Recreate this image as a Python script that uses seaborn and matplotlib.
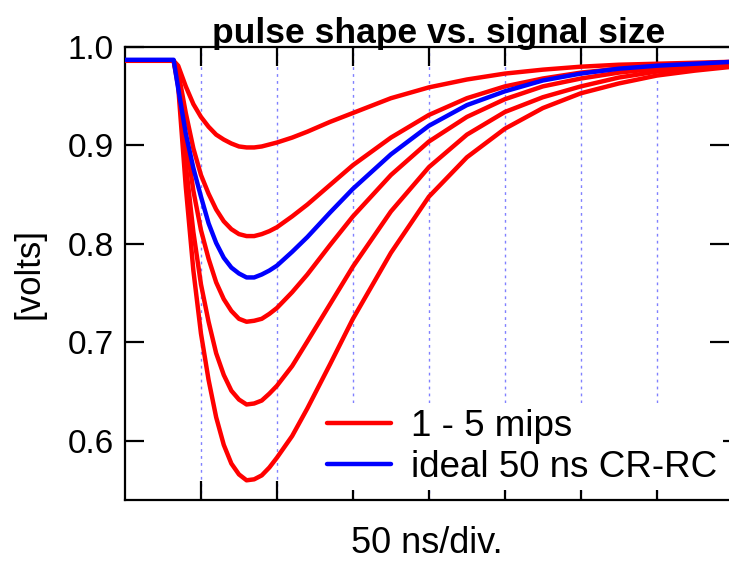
import numpy as np
import pandas as pd
import matplotlib
matplotlib.use("Agg")
import matplotlib.pyplot as plt
import seaborn as sns
from matplotlib.lines import Line2D

# time axis in divisions (50 ns/div)
t = [0.0, 0.64, 0.7, 0.8, 0.9, 1.0, 1.1, 1.2, 1.3, 1.4, 1.5, 1.6, 1.7, 1.8, 1.9,
     2.0, 2.2, 2.4, 2.7, 3.0, 3.5, 4.0, 4.5, 5.0, 5.5, 6.0, 6.5, 7.0, 7.5, 8.0]

mip1 = [0.986, 0.986, 0.981, 0.960, 0.942, 0.929, 0.919, 0.911, 0.906, 0.902, 0.899, 0.898, 0.898, 0.899, 0.901,
        0.903, 0.908, 0.914, 0.924, 0.933, 0.948, 0.959, 0.967, 0.973, 0.977, 0.980, 0.982, 0.983, 0.984, 0.985]
mip2 = [0.986, 0.986, 0.975, 0.933, 0.897, 0.870, 0.851, 0.835, 0.823, 0.815, 0.810, 0.808, 0.808, 0.810, 0.813,
        0.817, 0.828, 0.840, 0.860, 0.880, 0.908, 0.931, 0.948, 0.960, 0.968, 0.974, 0.978, 0.981, 0.983, 0.984]
mip3 = [0.986, 0.986, 0.970, 0.907, 0.854, 0.814, 0.785, 0.761, 0.744, 0.732, 0.724, 0.721, 0.722, 0.724, 0.729,
        0.735, 0.751, 0.769, 0.799, 0.828, 0.870, 0.904, 0.929, 0.947, 0.960, 0.968, 0.974, 0.978, 0.981, 0.983]
mip4 = [0.986, 0.986, 0.965, 0.881, 0.812, 0.759, 0.721, 0.689, 0.667, 0.651, 0.642, 0.637, 0.638, 0.641, 0.648,
        0.656, 0.676, 0.701, 0.739, 0.777, 0.833, 0.878, 0.911, 0.934, 0.949, 0.960, 0.969, 0.975, 0.979, 0.982]
mip5 = [0.986, 0.986, 0.960, 0.858, 0.773, 0.709, 0.662, 0.624, 0.596, 0.577, 0.566, 0.560, 0.561, 0.565, 0.573,
        0.583, 0.605, 0.633, 0.678, 0.724, 0.791, 0.848, 0.888, 0.917, 0.938, 0.953, 0.963, 0.971, 0.976, 0.980]
ideal = [0.987, 0.987, 0.958, 0.912, 0.877, 0.848, 0.821, 0.801, 0.786, 0.776, 0.770, 0.766, 0.766, 0.769, 0.773,
         0.778, 0.792, 0.807, 0.832, 0.856, 0.891, 0.920, 0.941, 0.955, 0.966, 0.973, 0.978, 0.981, 0.983, 0.985]

y_ticks = [0.6, 0.7, 0.8, 0.9, 1.0]
y_ticklabels = ["0.6", "0.7", "0.8", "0.9", "1.0"]
x_ticks = [1, 2, 3, 4, 5, 6, 7]
legend_labels = ["1 - 5 mips", "ideal 50 ns CR-RC"]

sns.set_theme(style="ticks")
plt.rcParams['font.family'] = ['Liberation Sans', 'DejaVu Sans']
plt.rcParams.update({"text.color": "black", "axes.labelcolor": "black",
                     "xtick.color": "black", "ytick.color": "black",
                     "axes.edgecolor": "black"})

fig = plt.figure(figsize=(7.29, 5.63), dpi=100)
ax = fig.add_axes([125 / 729, 63 / 563, 604 / 729, 453 / 563])

red_sets = [mip1, mip2, mip3, mip4, mip5]
df = pd.DataFrame({
    "t": t * 5,
    "v": sum(red_sets, []),
    "curve": sum([[f"m{i}"] * len(t) for i in range(5)], []),
})
sns.lineplot(data=df, x="t", y="v", units="curve", estimator=None, color="#ff0000",
             linewidth=3.2, ax=ax, legend=False, zorder=3)
sns.lineplot(x=t, y=ideal, color="#0000ff", linewidth=3.2, ax=ax, legend=False, zorder=4)
for ln in ax.get_lines():
    ln.set_solid_joinstyle("round")
    ln.set_solid_capstyle("round")

ax.set_xlim(0, 7.95)
ax.set_ylim(0.54, 1.0)
ax.set_xticks(x_ticks)
ax.set_xticklabels([])
ax.set_yticks(y_ticks)
ax.set_yticklabels(y_ticklabels)

for s in ["left", "bottom", "top"]:
    ax.spines[s].set_linewidth(1.6)
    ax.spines[s].set_color("black")
ax.spines["right"].set_visible(False)

ax.tick_params(axis="both", direction="in", length=14, width=1.6, color="black",
               top=True, right=True, labelsize=24, pad=8, labelcolor="black")
ax.tick_params(axis="y", labelright=False)

ax.grid(axis="x", color="#8080ff", linestyle=(0, (2, 3)), linewidth=1.0)
ax.set_axisbelow(True)

ax.set_title("pulse shape vs. signal size", fontsize=25.5, fontweight="bold", pad=3, x=0.52)
ax.set_xlabel("50 ns/div.", fontsize=26, labelpad=11)
ax.set_ylabel("[volts]", fontsize=25, labelpad=16)

handles = [Line2D([0], [0], color="#ff0000", lw=3.2),
           Line2D([0], [0], color="#0000ff", lw=3.2)]
leg = ax.legend(handles, legend_labels, loc="lower right", bbox_to_anchor=(0.99, 0.022),
                borderaxespad=0, fontsize=26.5, frameon=True, fancybox=False,
                handlelength=1.75, handletextpad=0.55, labelspacing=0.15, borderpad=0.15)
leg.get_frame().set_facecolor("white")
leg.get_frame().set_edgecolor("none")
leg.get_frame().set_alpha(1.0)
leg.set_zorder(5)

fig.savefig("out.png", dpi=100)
